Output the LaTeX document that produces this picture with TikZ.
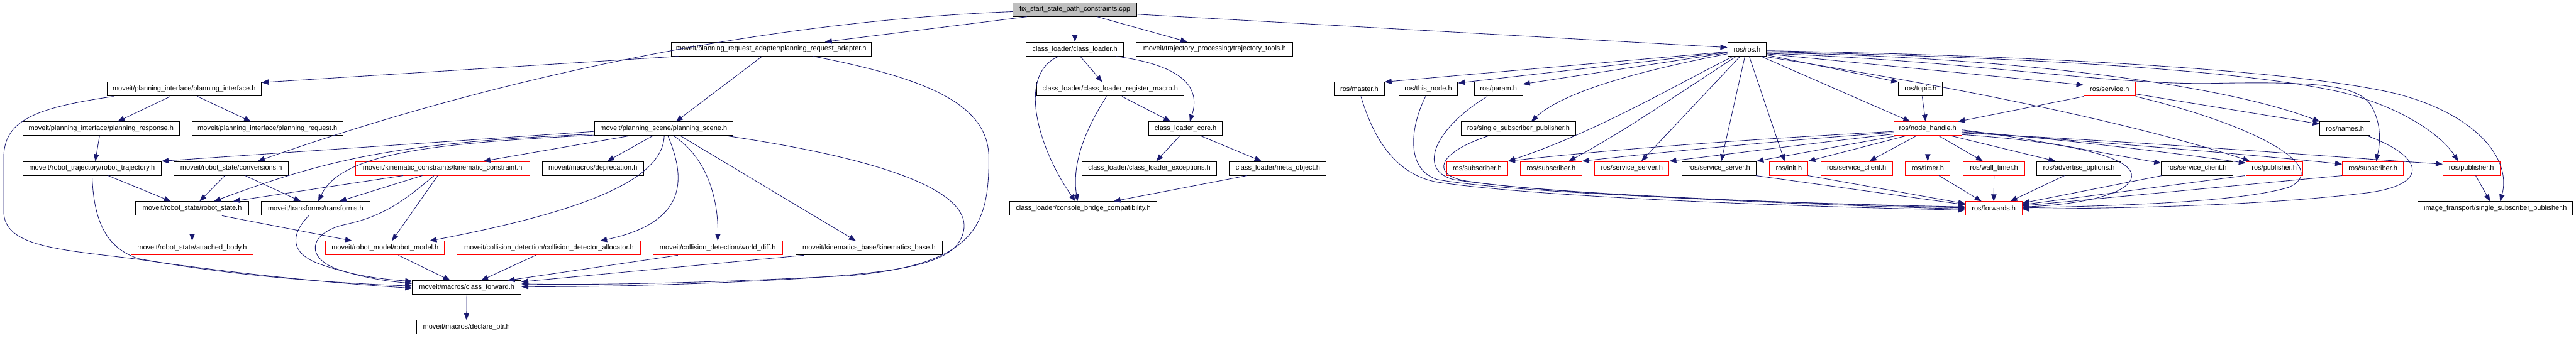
\documentclass[tikz,border=0pt]{standalone}
\usepackage{fontspec}
\setmainfont{Liberation Sans}
\usepackage{tikz}
\usetikzlibrary{arrows.meta}
\definecolor{edgeblue}{RGB}{25,25,112}
\definecolor{truncred}{RGB}{255,0,0}
\definecolor{rootgray}{RGB}{191,191,191}

\begin{document}
\begin{tikzpicture}[x=1pt,y=-0.9927pt,
    incl/.style={draw=black,fill=white,line width=1.2pt,minimum height=26pt,inner sep=0pt,font=\fontsize{13}{15}\selectfont},
    trunc/.style={incl,draw=truncred},
    dep/.style={draw=edgeblue,line width=1pt,-{Triangle[length=13pt,width=10pt]}}]
    \useasboundingbox (0,0) rectangle (4840,639.7);
    % row 0 and 1
    \node[incl,fill=rootgray,minimum width=233pt] (cpp) at (2019.5,18) {fix\_start\_state\_path\_constraints.cpp};
    \node[incl,minimum width=376pt] (pra) at (1449,93) {moveit/planning\_request\_adapter/planning\_request\_adapter.h};
    \node[incl,minimum width=183pt] (cl) at (2019.5,93) {class\_loader/class\_loader.h};
    \node[incl,minimum width=294pt] (tt) at (2282,93) {moveit/trajectory\_processing/trajectory\_tools.h};
    \node[incl,minimum width=73pt] (ros) at (3282.5,93) {ros/ros.h};
    % row 2
    \node[incl,minimum width=290pt] (pi) at (346,169) {moveit/planning\_interface/planning\_interface.h};
    \node[incl,minimum width=276pt] (clrm) at (2086,169) {class\_loader/class\_loader\_register\_macro.h};
    \node[incl,minimum width=94pt] (master) at (2554,169) {ros/master.h};
    \node[incl,minimum width=111pt] (thisnode) at (2683.5,169) {ros/this\_node.h};
    \node[incl,minimum width=91pt] (param) at (2815.5,169) {ros/param.h};
    \node[incl,minimum width=83pt] (topic) at (3608.5,169) {ros/topic.h};
    \node[trunc,minimum width=97pt] (service) at (3963.5,169) {ros/service.h};
    % row 3
    \node[incl,minimum width=294pt] (presp) at (190,244) {moveit/planning\_interface/planning\_response.h};
    \node[incl,minimum width=283pt] (preq) at (502.5,244) {moveit/planning\_interface/planning\_request.h};
    \node[incl,minimum width=260pt] (pscene) at (1247,244) {moveit/planning\_scene/planning\_scene.h};
    \node[incl,minimum width=139pt] (clcore) at (2227.5,244) {class\_loader\_core.h};
    \node[incl,minimum width=214pt] (ssp) at (2853,244) {ros/single\_subscriber\_publisher.h};
    \node[trunc,minimum width=128pt] (nh) at (3622,244) {ros/node\_handle.h};
    \node[incl,minimum width=94pt] (names) at (4406,244) {ros/names.h};
    % row 4
    \node[incl,minimum width=260pt] (rtraj) at (173,319) {moveit/robot\_trajectory/robot\_trajectory.h};
    \node[incl,minimum width=215pt] (conv) at (434.5,319) {moveit/robot\_state/conversions.h};
    \node[trunc,minimum width=327pt] (kc) at (831.5,319) {moveit/kinematic\_constraints/kinematic\_constraint.h};
    \node[incl,minimum width=190pt] (depr) at (1114,319) {moveit/macros/deprecation.h};
    \node[incl,minimum width=253pt] (exc) at (2159.5,319) {class\_loader/class\_loader\_exceptions.h};
    \node[incl,minimum width=182pt] (meta) at (2401,319) {class\_loader/meta\_object.h};
    \node[trunc,minimum width=115pt] (sub1) at (2775.5,319) {ros/subscriber.h};
    \node[trunc,minimum width=115pt] (sub2) at (2914.5,319) {ros/subscriber.h};
    \node[trunc,minimum width=140pt] (ssrv1) at (3066,319) {ros/service\_server.h};
    \node[incl,minimum width=140pt] (ssrv2) at (3230,319) {ros/service\_server.h};
    \node[trunc,minimum width=72pt] (init) at (3361,319) {ros/init.h};
    \node[trunc,minimum width=135pt] (sclt1) at (3488.5,319) {ros/service\_client.h};
    \node[trunc,minimum width=84pt] (timer) at (3622,319) {ros/timer.h};
    \node[trunc,minimum width=115pt] (wtimer) at (3746.5,319) {ros/wall\_timer.h};
    \node[incl,minimum width=158pt] (adv) at (3906,319) {ros/advertise\_options.h};
    \node[incl,minimum width=134pt] (sclt2) at (4128,319) {ros/service\_client.h};
    \node[trunc,minimum width=106pt] (pub1) at (4273,319) {ros/publisher.h};
    \node[trunc,minimum width=115pt] (sub3) at (4458.5,319) {ros/subscriber.h};
    \node[trunc,minimum width=107pt] (pub2) at (4643.5,319) {ros/publisher.h};
    % row 5
    \node[incl,minimum width=212pt] (rstate) at (361,395) {moveit/robot\_state/robot\_state.h};
    \node[incl,minimum width=204pt] (transf) at (593,395) {moveit/transforms/transforms.h};
    \node[incl,minimum width=277pt] (cbc) at (2035.5,395) {class\_loader/console\_bridge\_compatibility.h};
    \node[trunc,minimum width=106pt] (fwd) at (3746,395) {ros/forwards.h};
    \node[incl,minimum width=291pt] (itssp) at (4688.5,395) {image\_transport/single\_subscriber\_publisher.h};
    % row 6 to 8
    \node[trunc,minimum width=230pt] (attached) at (361,470) {moveit/robot\_state/attached\_body.h};
    \node[trunc,minimum width=223pt] (rmodel) at (723.5,470) {moveit/robot\_model/robot\_model.h};
    \node[trunc,minimum width=345pt] (cda) at (1031.5,470) {moveit/collision\_detection/collision\_detector\_allocator.h};
    \node[trunc,minimum width=243pt] (wdiff) at (1348.5,470) {moveit/collision\_detection/world\_diff.h};
    \node[incl,minimum width=276pt] (kb) at (1633,470) {moveit/kinematics\_base/kinematics\_base.h};
    \node[incl,minimum width=204pt] (cfwd) at (877,545) {moveit/macros/class\_forward.h};
    \node[incl,minimum width=187pt] (dptr) at (876.5,620) {moveit/macros/declare\_ptr.h};

    % moveit side
    \draw[dep] ([xshift=-90pt]cpp.south) -- ([xshift=101pt]pra.north);
    \draw[dep] ([yshift=-4pt]cpp.west) .. controls (1450,40) and (950,140) .. ([xshift=50pt]conv.north);
    \draw[dep] (cpp.south) -- (cl.north);
    \draw[dep] ([xshift=42pt]cpp.south) -- ([xshift=-51pt]tt.north);
    \draw[dep] ([yshift=-9pt]cpp.east) -- ([yshift=3pt]ros.west);
    \draw[dep] ([xshift=14pt]pra.south west) -- ([yshift=-1pt]pi.north east);
    \draw[dep] ([xshift=-17pt]pra.south) -- ([xshift=23pt]pscene.north);
    \draw[dep] ([xshift=79pt]pra.south) .. controls (1750,150) and (1858,200) .. (1858,300) .. controls (1858,430) and (1830,500) .. (1600,522) .. controls (1300,538) and (1100,540) .. ([yshift=7pt]cfwd.east);
    \draw[dep] ([xshift=-26pt]pi.south) -- ([xshift=31pt]presp.north);
    \draw[dep] ([xshift=25pt]pi.south) -- ([xshift=-31pt]preq.north);
    \draw[dep] ([xshift=13pt]pi.south west) .. controls (60,205) and (7,230) .. (7,300) -- (7,400) .. controls (7,465) and (100,472) .. (250,490) .. controls (420,515) and (600,535) .. ([yshift=-1pt]cfwd.west);
    \draw[dep] ([xshift=-3pt]presp.south) -- ([xshift=6pt]rtraj.north);
    \draw[dep] ([xshift=30pt]rtraj.south) -- ([xshift=-40pt]rstate.north);
    \draw[dep] (rtraj.south) .. controls (176,420) and (200,470) .. (260,490) .. controls (420,520) and (600,535) .. ([yshift=3pt]cfwd.west);
    \draw[dep] ([xshift=-12pt]conv.south) -- ([xshift=14pt]rstate.north);
    \draw[dep] ([xshift=26pt]conv.south) -- ([xshift=-28pt]transf.north);
    \draw[dep] (rstate.south) -- (attached.north);
    \draw[dep] ([xshift=56pt]rstate.south) -- ([xshift=-62pt]rmodel.north);
    \draw[dep] ([xshift=-13pt]transf.south) .. controls (545,445) and (545,480) .. (600,500) .. controls (650,518) and (700,528) .. ([yshift=12pt]cfwd.west);
    \draw[dep] ([xshift=-74pt]kc.south) -- ([xshift=77pt]rstate.north);
    \draw[dep] ([xshift=-38pt]kc.south) -- ([xshift=45pt]transf.north);
    \draw[dep] ([xshift=-16pt]kc.south) .. controls (760,380) and (720,410) .. (650,425) .. controls (580,440) and (570,490) .. (640,512) .. controls (690,528) and (730,533) .. ([yshift=8pt]cfwd.west);
    \draw[dep] ([xshift=-9pt]kc.south) -- ([xshift=13pt]rmodel.north);
    \draw[dep] ([yshift=-5pt]pscene.west) -- (rtraj.north east);
    \draw[dep] ([yshift=-10pt]pscene.west) .. controls (750,270) and (620,300) .. ([xshift=41pt]rstate.north);
    \draw[dep] ([yshift=-12pt]pscene.west) .. controls (800,272) and (640,292) .. ([xshift=5pt]transf.north);
    \draw[dep] ([xshift=-66pt]pscene.south) -- ([xshift=77pt]kc.north);
    \draw[dep] ([xshift=-21pt]pscene.south) -- ([xshift=27pt]depr.north);
    \draw[dep] ([xshift=1pt]pscene.south) .. controls (1245,340) and (1100,400) .. ([xshift=84pt]rmodel.north);
    \draw[dep] ([xshift=8pt]pscene.south) .. controls (1285,330) and (1300,420) .. ([xshift=96pt]cda.north);
    \draw[dep] ([xshift=19pt]pscene.south) .. controls (1330,300) and (1350,380) .. (wdiff.north);
    \draw[dep] ([xshift=32pt]pscene.south) -- ([xshift=-25pt]kb.north);
    \draw[dep] ([xshift=120pt]pscene.south) .. controls (1650,300) and (1830,360) .. (1810,440) .. controls (1795,500) and (1700,515) .. (1500,528) .. controls (1300,540) and (1100,544) .. ([yshift=2pt]cfwd.east);
    \draw[dep] ([xshift=25pt]rmodel.south) -- ([xshift=-31pt]cfwd.north);
    \draw[dep] ([xshift=-25pt]cda.south) -- ([xshift=27pt]cfwd.north);
    \draw[dep] ([xshift=-75pt]wdiff.south) -- ([xshift=77pt]cfwd.north);
    \draw[dep] ([xshift=-123pt]kb.south) -- ([yshift=11pt]cfwd.east);
    \draw[dep] (cfwd.south) -- (dptr.north);

    % class_loader side
    \draw[dep] ([xshift=10pt]cl.south) -- ([xshift=-15pt]clrm.north);
    \draw[dep] ([xshift=77pt]cl.south) .. controls (2230,125) and (2255,170) .. ([xshift=8pt]clcore.north);
    \draw[dep] ([xshift=-30pt]cl.south) .. controls (1910,140) and (1950,280) .. ([xshift=-15pt]cbc.north);
    \draw[dep] ([xshift=22pt]clrm.south) -- ([xshift=-28pt]clcore.north);
    \draw[dep] ([xshift=-7pt]clrm.south) .. controls (2030,260) and (2015,320) .. ([xshift=-11pt]cbc.north);
    \draw[dep] ([xshift=-11pt]clcore.south) -- ([xshift=13pt]exc.north);
    \draw[dep] ([xshift=29pt]clcore.south) -- ([xshift=-31pt]meta.north);
    \draw[dep] ([xshift=-58pt]meta.south) -- ([xshift=57pt]cbc.north);

    % ros side
    \draw[dep] ([yshift=-5pt]ros.west) -- (master.north east);
    \draw[dep] ([yshift=-6pt]ros.west) -- ([yshift=-2pt]thisnode.north east);
    \draw[dep] ([yshift=-7pt]ros.west) -- ([yshift=-4pt]param.north east);
    \draw[dep] ([yshift=-9pt]ros.west) .. controls (3050,140) and (2930,180) .. ([xshift=24pt]ssp.north);
    \draw[dep] ([xshift=-26pt]ros.south) .. controls (3150,160) and (3000,250) .. (sub1.north east);
    \draw[dep] ([xshift=-20pt]ros.south) .. controls (3150,180) and (3050,250) .. ([xshift=33pt]sub2.north);
    \draw[dep] ([xshift=-13pt]ros.south) -- ([xshift=18pt]ssrv1.north);
    \draw[dep] ([xshift=-4pt]ros.south) -- ([xshift=4pt]ssrv2.north);
    \draw[dep] ([xshift=4pt]ros.south) -- ([xshift=-8pt]init.north);
    \draw[dep] ([xshift=26pt]ros.south) -- ([xshift=-33pt]nh.north);
    \draw[dep] ([yshift=-11pt]ros.east) -- (topic.north west);
    \draw[dep] ([yshift=-9pt]ros.east) -- ([yshift=8pt]service.west);
    \draw[dep] ([yshift=-7pt]ros.east) .. controls (3700,105) and (4150,150) .. (names.north west);
    \draw[dep] ([yshift=-8pt]ros.east) .. controls (3700,115) and (3950,160) .. (4150,158) .. controls (4350,154) and (4430,160) .. (4455,200) .. controls (4478,240) and (4470,280) .. ([xshift=6pt]sub3.north);
    \draw[dep] ([yshift=-5pt]ros.east) .. controls (3900,110) and (4250,140) .. (4400,175) .. controls (4520,205) and (4590,260) .. ([xshift=-25pt]pub2.north);
    \draw[dep] ([yshift=-3pt]ros.east) .. controls (3800,105) and (4300,130) .. (4500,177) .. controls (4650,215) and (4720,300) .. ([xshift=9pt]itssp.north);
    \draw[dep] ([xshift=30pt]ros.south) .. controls (3650,160) and (4000,230) .. ([xshift=-46pt]pub1.north);
    \draw[dep] ([xshift=3pt]topic.south) -- ([xshift=-4pt]nh.north);
    \draw[dep] ([xshift=-48pt]service.south) -- ([xshift=57pt]nh.north);
    \draw[dep] ([yshift=-9pt]service.east) -- ([yshift=9pt]names.west);
    \draw[dep] (service.south east) .. controls (4250,240) and (4380,320) .. (4300,355) .. controls (4200,385) and (3950,390) .. ([yshift=1pt]fwd.east);
    \draw[dep] ([xshift=43pt]names.south) .. controls (4560,300) and (4560,350) .. (4450,365) .. controls (4250,390) and (4000,394) .. ([yshift=-1pt]fwd.east);
    \draw[dep] ([yshift=-5pt]nh.west) .. controls (3400,258) and (3100,275) .. (sub1.north east);
    \draw[dep] ([yshift=-7pt]nh.west) .. controls (3400,262) and (3150,285) .. (sub2.north east);
    \draw[dep] ([yshift=-10pt]nh.west) .. controls (3400,272) and (3250,292) .. (ssrv1.north east);
    \draw[dep] ([xshift=-60pt]nh.south) -- (ssrv2.north east);
    \draw[dep] ([xshift=-42pt]nh.south) -- (init.north east);
    \draw[dep] ([xshift=-22pt]nh.south) -- ([xshift=24pt]sclt1.north);
    \draw[dep] (nh.south) -- (timer.north);
    \draw[dep] ([xshift=21pt]nh.south) -- ([xshift=-21pt]wtimer.north);
    \draw[dep] ([xshift=45pt]nh.south) -- ([xshift=-44pt]adv.north);
    \draw[dep] ([yshift=-2pt]nh.east) .. controls (3800,260) and (3950,290) .. ([yshift=10pt]sclt2.west);
    \draw[dep] ([yshift=-4pt]nh.east) .. controls (3850,262) and (4050,285) .. ([yshift=10pt]pub1.west);
    \draw[dep] ([yshift=-6pt]nh.east) .. controls (3950,270) and (4200,290) .. ([yshift=8pt]sub3.west);
    \draw[dep] ([yshift=-8pt]nh.east) .. controls (4050,270) and (4350,295) .. ([yshift=8pt]pub2.west);
    \draw[dep] ([yshift=-11pt]nh.east) .. controls (3900,270) and (4010,300) .. (4005,335) .. controls (4000,370) and (3900,388) .. ([yshift=3pt]fwd.east);
    \draw[dep] ([xshift=69pt]ssrv2.south) -- ([yshift=7pt]fwd.west);
    \draw[dep] ([xshift=36pt]init.south) -- ([yshift=9pt]fwd.west);
    \draw[dep] ([xshift=21pt]timer.south) -- ([xshift=-23pt]fwd.north);
    \draw[dep] (wtimer.south) -- (fwd.north);
    \draw[dep] ([xshift=-27pt]adv.south) -- ([xshift=31pt]fwd.north);
    \draw[dep] ([xshift=-66pt]sclt2.south) -- ([yshift=10pt]fwd.east);
    \draw[dep] ([xshift=-55pt]pub1.south) -- ([yshift=7pt]fwd.east);
    \draw[dep] ([xshift=-58pt]sub3.south) -- ([yshift=5pt]fwd.east);
    \draw[dep] ([xshift=-5pt]thisnode.south) .. controls (2650,240) and (2640,320) .. (2700,340) .. controls (2850,368) and (3400,386) .. ([yshift=3pt]fwd.west);
    \draw[dep] ([xshift=-21pt]param.south) .. controls (2700,240) and (2660,320) .. (2730,340) .. controls (2900,368) and (3400,386) .. ([yshift=1pt]fwd.west);
    \draw[dep] ([xshift=-57pt]ssp.south) .. controls (2700,290) and (2690,330) .. (2750,342) .. controls (2900,368) and (3400,388) .. ([yshift=-1pt]fwd.west);
    \draw[dep] ([xshift=3pt]master.south) .. controls (2580,260) and (2620,330) .. (2700,345) .. controls (2900,375) and (3400,392) .. ([yshift=-3pt]fwd.west);
    \draw[dep] ([xshift=8pt]pub2.south) -- ([xshift=-10pt]itssp.north);
\end{tikzpicture}
\end{document}
